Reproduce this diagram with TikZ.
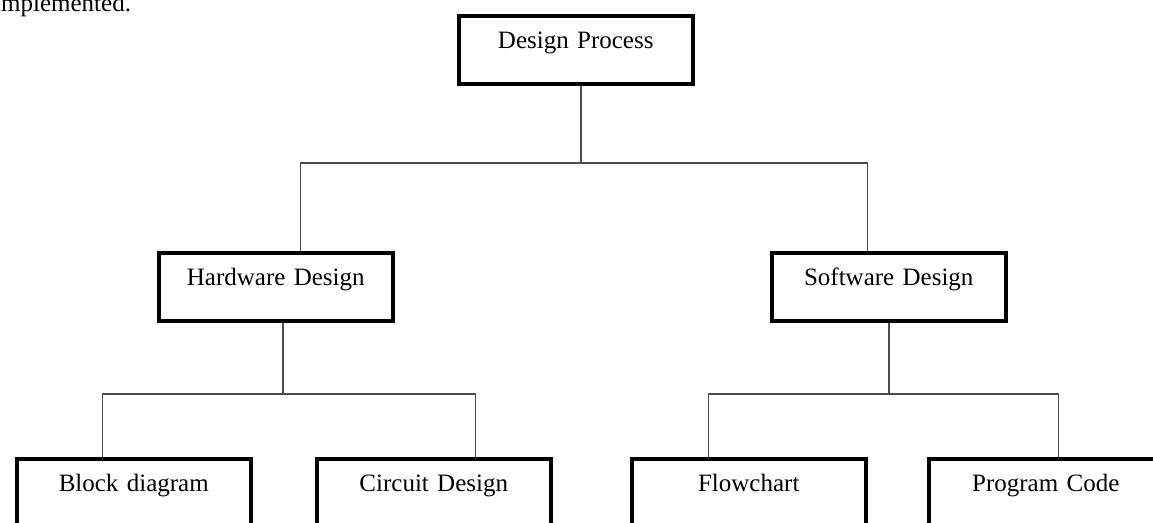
\documentclass[tikz,border=0pt]{standalone}
\usepackage{fontspec}
\setmainfont{Liberation Serif}
\begin{document}
\begin{tikzpicture}[x=1pt,y=-1pt,
  box/.style={draw, line width=3.5pt, inner sep=0pt, anchor=north west,
    text width=234pt, align=center, text height=33pt, text depth=35pt,
    font=\fontsize{25}{30}\selectfont},
  conn/.style={draw=black!70, line width=1.4pt}]
\useasboundingbox (0,0) rectangle (1153,522);
\begin{scope}
\clip (0,0) rectangle (1153,522);
\node[anchor=base west, inner sep=0pt, font=\fontsize{25}{30}\selectfont] (impl) at (-6,11) {implemented.};
\node[box] (dp) at (457,14) {Design Process};
\node[box] (hw) at (157,251) {Hardware Design};
\node[box] (sw) at (770,251) {Software Design};
\node[box] (bd) at (15,457) {Block diagram};
\node[box] (cd) at (315,457) {Circuit Design};
\node[box] (fc) at (630,457) {Flowchart};
\node[box] (pc) at (927,457) {Program Code};
\coordinate (t1) at (581,163);
\coordinate (t2) at (283,394);
\coordinate (t3) at (889,394);
\draw[conn] (dp.south -| t1) -- (t1);
\draw[conn] ([xshift=25pt]hw.north) |- (t1) -| ([xshift=-21pt]sw.north);
\draw[conn] (hw.south -| t2) -- (t2);
\draw[conn] ([xshift=-31.5pt]bd.north) |- (t2) -| ([xshift=41.5pt]cd.north);
\draw[conn] (sw.south -| t3) -- (t3);
\draw[conn] ([xshift=-40pt]fc.north) |- (t3) -| ([xshift=13pt]pc.north);
\end{scope}
\end{tikzpicture}
\end{document}
